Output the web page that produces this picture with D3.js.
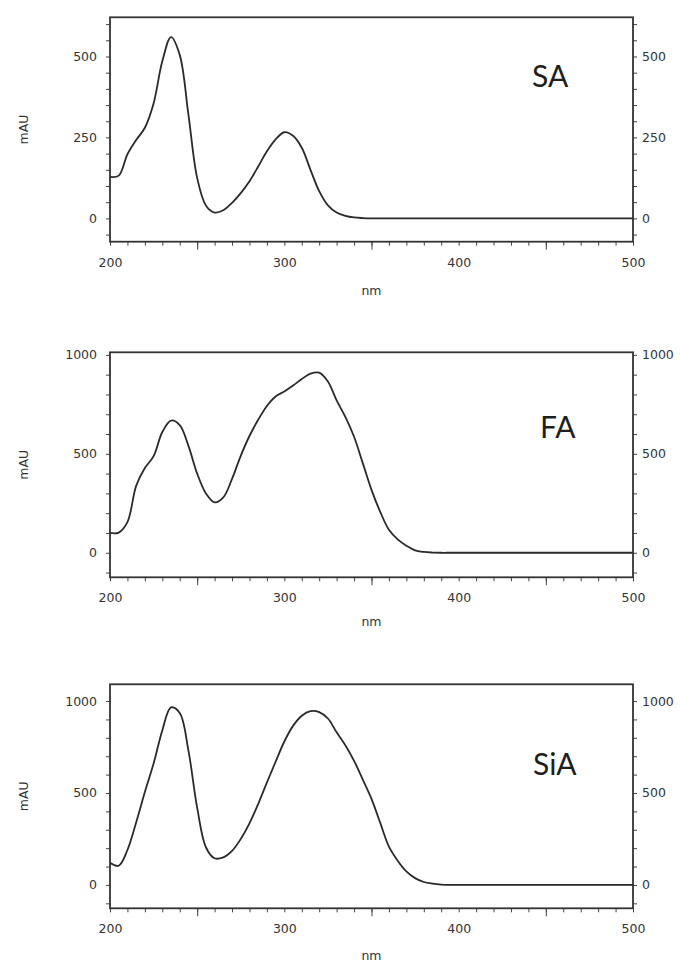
<!DOCTYPE html>
<html>
<head>
<meta charset="utf-8">
<script src="https://cdn.jsdelivr.net/npm/d3@7"></script>
<style>
  body { margin: 0; background: #fff; }
  .tick text { font-family: "DejaVu Sans", sans-serif; font-size: 12.5px; fill: #333; }
  .tick line { stroke: #444; }
  .axis-title { font-family: "DejaVu Sans", sans-serif; font-size: 12.5px; fill: #333; }
  .panel-name { font-family: Lato, "Open Sans", sans-serif; font-size: 30px; fill: #1e1e1e; }
</style>
</head>
<body>
<svg id="chart" width="680" height="963"></svg>
<script>
// wavelength grid (nm) shared by all three spectra
const wavelengths = [200, 205, 210, 215, 220, 225, 230, 235, 240, 245, 250, 255, 260, 265, 270,
  275, 280, 285, 290, 295, 300, 305, 310, 315, 320, 325, 330, 335, 340, 345, 350,
  355, 360, 365, 370, 375, 380, 385, 390, 395, 400, 450, 500];

// absorbance (mAU)
const saValues = [128, 132, 198, 242, 280, 355, 485, 560, 505, 320, 125, 40, 18, 25, 48,
  78, 115, 160, 207, 244, 266, 255, 218, 150, 84, 40, 18, 8, 3, 1, 0,
  0, 0, 0, 0, 0, 0, 0, 0, 0, 0, 0, 0];
const faValues = [100, 102, 155, 338, 428, 488, 610, 668, 645, 540, 400, 300, 255, 280, 373,
  490, 590, 672, 742, 790, 815, 845, 878, 905, 910, 865, 770, 687, 586, 453, 318,
  207, 116, 68, 36, 12, 4, 1, 0, 0, 0, 0, 0];
const siaValues = [120, 105, 190, 340, 505, 660, 840, 965, 935, 730, 420, 205, 145, 150, 185,
  250, 335, 440, 557, 670, 780, 865, 920, 945, 940, 905, 830, 760, 675, 573, 468,
  338, 208, 132, 74, 37, 16, 7, 2, 0, 0, 0, 0];

const xLabels = [200, 300, 400, 500];
const saYLabels = [0, 250, 500];
const faYLabels = [0, 500, 1000];
const siaYLabels = [0, 500, 1000];

// layout per panel
const panels = [
  { name: "SA", values: saValues, labels: saYLabels, step: 50, top: 17.3, bottom: 241.7, domain: [-72, 621], nameX: 532, nameY: 87, nmY: 295 },
  { name: "FA", values: faValues, labels: faYLabels, step: 100, top: 352.3, bottom: 577.3, domain: [-124, 1013], nameX: 540, nameY: 438, nmY: 626 },
  { name: "SiA", values: siaValues, labels: siaYLabels, step: 100, top: 684.3, bottom: 908.3, domain: [-127, 1091], nameX: 533, nameY: 775, nmY: 960 }
];

const left = 110, right = 633;
const svg = d3.select("#chart");

const x = d3.scaleLinear().domain([200, 500]).range([left, right]);

function drawPanel(p) {
  const y = d3.scaleLinear().domain(p.domain).range([p.bottom, p.top]);
  const g = svg.append("g");

  // y ticks, every step, labels only on the majors
  const yTicks = d3.range(Math.ceil(p.domain[0] / p.step) * p.step, p.domain[1], p.step);
  const fmt = d => p.labels.includes(d) ? d : "";

  g.append("g").attr("transform", "translate(" + left + ",0)")
    .call(d3.axisLeft(y).tickValues(yTicks).tickSize(4).tickPadding(9).tickFormat(fmt))
    .call(a => a.select(".domain").remove());
  g.append("g").attr("transform", "translate(" + right + ",0)")
    .call(d3.axisRight(y).tickValues(yTicks).tickSize(4).tickPadding(5).tickFormat(fmt))
    .call(a => a.select(".domain").remove());

  // x ticks: minor every 10, longer at the 50s, labels at the 100s
  const xg = g.append("g").attr("transform", "translate(0," + p.bottom + ")");
  xg.append("g").call(d3.axisBottom(x).tickValues(d3.range(200, 501, 10)).tickSize(4).tickFormat(""))
    .call(a => a.select(".domain").remove());
  xg.append("g").call(d3.axisBottom(x).tickValues([250, 350, 450]).tickSize(8).tickFormat(""))
    .call(a => a.select(".domain").remove());
  xg.append("g").call(d3.axisBottom(x).tickValues(xLabels).tickSize(0).tickPadding(16))
    .call(a => a.select(".domain").remove());

  // frame
  g.append("rect")
    .attr("x", left).attr("y", p.top)
    .attr("width", right - left).attr("height", p.bottom - p.top)
    .attr("fill", "none").attr("stroke", "#333").attr("stroke-width", 1.8);

  // spectrum
  const line = d3.line()
    .x((d, i) => x(wavelengths[i]))
    .y(d => y(d))
    .curve(d3.curveCatmullRom.alpha(0.5));

  g.append("path")
    .datum(p.values)
    .attr("d", line)
    .attr("fill", "none")
    .attr("stroke", "#2a2a2a")
    .attr("stroke-width", 1.8);

  // titles
  g.append("text").attr("class", "axis-title")
    .attr("transform", "translate(28," + (p.top + p.bottom) / 2 + ") rotate(-90)")
    .attr("text-anchor", "middle")
    .text("mAU");
  g.append("text").attr("class", "axis-title")
    .attr("x", (left + right) / 2).attr("y", p.nmY)
    .attr("text-anchor", "middle")
    .text("nm");
  g.append("text").attr("class", "panel-name")
    .attr("x", p.nameX).attr("y", p.nameY)
    .text(p.name);
}

panels.forEach(drawPanel);
</script>
</body>
</html>
